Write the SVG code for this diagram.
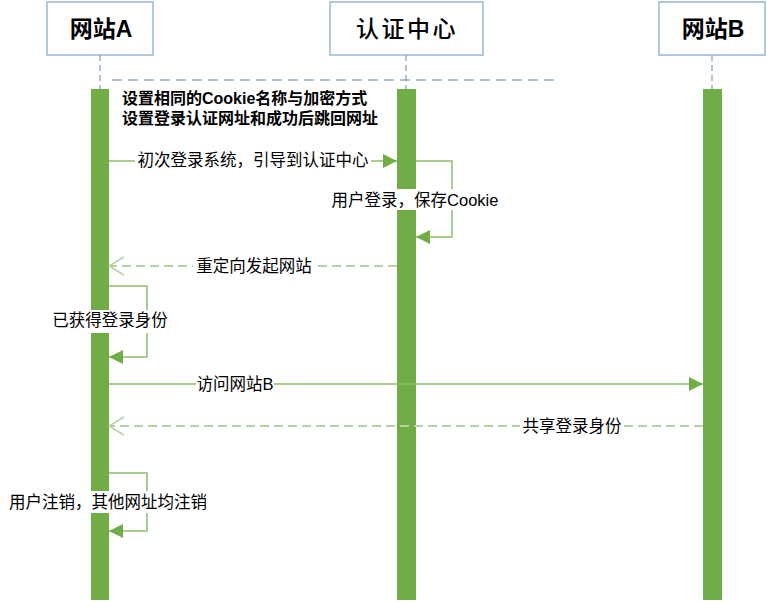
<svg xmlns="http://www.w3.org/2000/svg" width="767" height="602" viewBox="0 0 767 602">
<defs>
<style>
.box{fill:#fff;stroke:#9bb7d4;stroke-width:1.5}
.hdr{font-family:"Liberation Sans","Noto Sans CJK SC",sans-serif;font-size:23px;fill:#000;text-anchor:middle}
.life{stroke:#7f9fbf;stroke-width:1.2;stroke-dasharray:6 4;fill:none}
.bar{fill:#70ad47}
.lbl{font-family:"Liberation Sans","Noto Sans CJK SC",sans-serif;font-size:16.5px;fill:#000;text-anchor:middle}
.note{font-family:"Liberation Sans","Noto Sans CJK SC",sans-serif;font-size:16px;font-weight:bold;fill:#000}
.msg{stroke:#8cbb6a;stroke-width:1.5;fill:none}
.ret{stroke:#b7d2a2;stroke-width:2;stroke-dasharray:9 5;fill:none}
.bg{fill:#fff}
</style>
<marker id="fa" markerUnits="userSpaceOnUse" markerWidth="15" markerHeight="16" refX="14" refY="8" orient="auto">
<path d="M0,1 L14,8 L0,15 z" fill="#70ad47"/>
</marker>
<marker id="oa" markerUnits="userSpaceOnUse" markerWidth="18" markerHeight="22" refX="16" refY="10" orient="auto">
<path d="M1,1 L16,10 L1,19" fill="none" stroke="#b7d2a2" stroke-width="1.5"/>
</marker>
</defs>
<rect width="767" height="602" fill="#fff"/>

<g id="node-siteA">
<rect class="box" x="47" y="2" width="106" height="53"/>
<text class="hdr" x="101" y="37" font-weight="bold">网站A</text>
<line class="life" x1="100" y1="55" x2="100" y2="89"/>
<rect class="bar" x="91" y="89" width="18" height="511"/>
</g>

<g id="node-auth">
<rect class="box" x="330" y="2" width="153" height="53"/>
<text class="hdr" x="407" y="37" letter-spacing="2.5" font-weight="500">认证中心</text>
<line class="life" x1="406" y1="55" x2="406" y2="89"/>
<rect class="bar" x="397" y="89" width="19" height="511"/>
</g>

<g id="node-siteB">
<rect class="box" x="659" y="2" width="106" height="53"/>
<text class="hdr" x="713" y="37" font-weight="bold">网站B</text>
<line class="life" x1="712" y1="55" x2="712" y2="89"/>
<rect class="bar" x="703" y="89" width="19" height="511"/>
</g>

<g id="note">
<line x1="112" y1="80" x2="555" y2="80" stroke="#5b7fa8" stroke-width="1.2" stroke-dasharray="10 6"/>
<text class="note" x="122" y="104">设置相同的Cookie名称与加密方式</text>
<text class="note" x="122" y="124">设置登录认证网址和成功后跳回网址</text>
</g>

<g id="connectors">
<line class="msg" x1="109" y1="161" x2="397" y2="161" marker-end="url(#fa)"/>
<rect class="bg" x="135" y="152" width="236" height="18"/>
<text class="lbl" x="253" y="166">初次登录系统，引导到认证中心</text>

<polyline class="msg" points="416,161 452,161 452,237 416,237" marker-end="url(#fa)"/>
<rect class="bg" x="333" y="189" width="164" height="21"/>
<text class="lbl" x="415" y="206">用户登录，保存Cookie</text>

<line class="ret" x1="397" y1="266" x2="109" y2="266" marker-end="url(#oa)"/>
<rect class="bg" x="193" y="257" width="122" height="18"/>
<text class="lbl" x="254" y="272">重定向发起网站</text>

<polyline class="msg" points="109,286 147,286 147,357 109,357" marker-end="url(#fa)"/>
<rect class="bg" x="50" y="310" width="120" height="23"/>
<text class="lbl" x="110" y="326">已获得登录身份</text>

<line class="msg" x1="109" y1="384" x2="703" y2="384" marker-end="url(#fa)"/>
<rect class="bg" x="196" y="375" width="78" height="18"/>
<text class="lbl" x="235" y="390">访问网站B</text>

<line class="ret" x1="703" y1="426" x2="109" y2="426" marker-end="url(#oa)"/>
<rect class="bg" x="520" y="417" width="104" height="18"/>
<text class="lbl" x="572" y="432">共享登录身份</text>

<polyline class="msg" points="109,473 147,473 147,531 109,531" marker-end="url(#fa)"/>
<rect class="bg" x="7" y="491" width="204" height="22"/>
<text class="lbl" x="108" y="508">用户注销，其他网址均注销</text>
</g>
</svg>
